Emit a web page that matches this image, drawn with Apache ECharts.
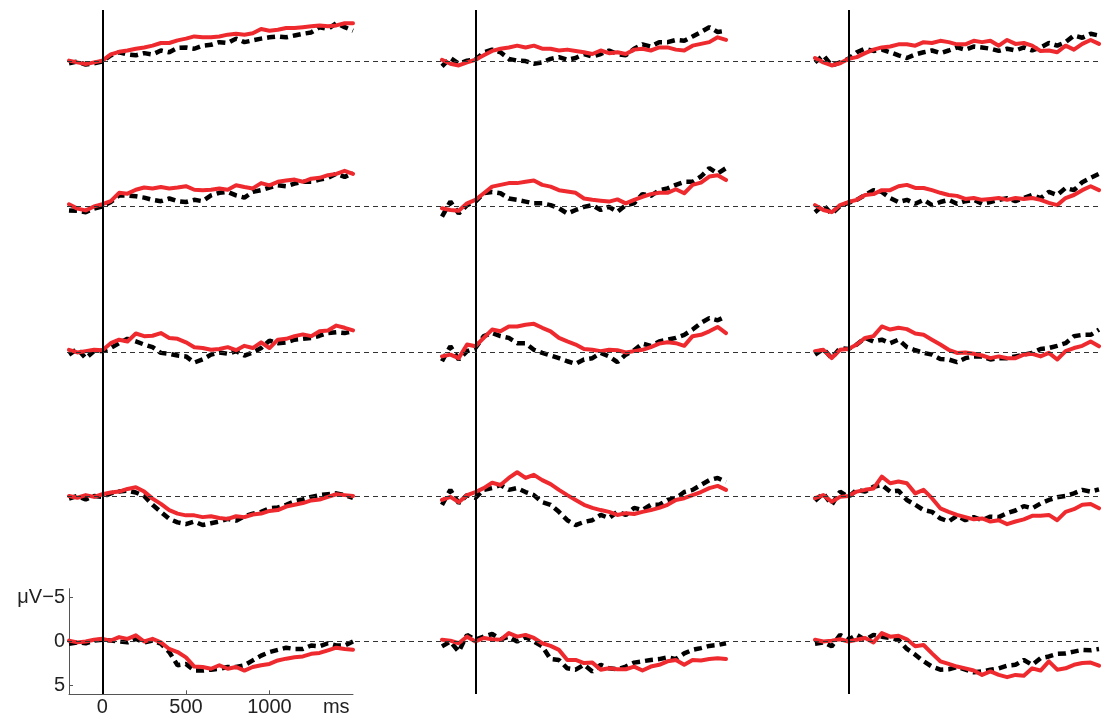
<!DOCTYPE html>
<html><head><meta charset="utf-8">
<script src="https://cdn.jsdelivr.net/npm/echarts@6/dist/echarts.min.js"></script>
<style>html,body{margin:0;padding:0;background:#fff}#c{width:1103px;height:718px}</style>
</head><body><div id="c"></div>
<script>
const times = [-200,-150,-100,-50,0,50,100,150,200,250,300,350,400,450,500,550,600,650,700,750,800,850,900,950,1000,1050,1100,1150,1200,1250,1300,1350,1400,1450,1500];
const yTicks = [-5, 0, 5];
const xTicks = [0, 500, 1000];

const red_1_1 = [-0.1,0.1,0.3,0.1,-0.1,-0.8,-1.1,-1.25,-1.45,-1.6,-1.8,-2.1,-2.1,-2.4,-2.6,-2.85,-2.75,-2.75,-2.85,-3.05,-3.15,-3.05,-3.2,-3.7,-3.5,-3.6,-3.8,-3.8,-3.9,-4.0,-4.1,-4.0,-4.1,-4.35,-4.35];
const black_1_1 = [0.2,0,0.35,0.2,0,-0.7,-1.05,-0.8,-0.7,-0.95,-0.8,-1.25,-1.05,-1.55,-1.6,-1.45,-1.8,-1.9,-2.2,-2.1,-2.6,-2.2,-2.4,-2.6,-2.75,-2.85,-2.75,-2.95,-3.15,-3.3,-3.9,-3.7,-4.35,-3.9,-3.5];
const red_1_2 = [-0.2,0.25,0.45,0.1,-0.2,-0.7,-1.2,-1.45,-1.6,-1.8,-1.6,-1.8,-1.45,-1.45,-1.25,-1.35,-1.2,-1.05,-0.85,-1.25,-0.95,-1.05,-0.85,-1.35,-1.45,-1.25,-1.6,-1.6,-1.35,-1.25,-1.8,-2.0,-2.2,-2.75,-2.45];
const black_1_2 = [0.55,-0.4,0.25,-0.1,-0.2,-1.05,-1.35,-1.05,-0.3,-0.1,-0.05,0.25,0.1,-0.3,-0.5,-0.2,-0.4,-0.85,-0.55,-0.85,-1.25,-0.85,-0.7,-1.45,-1.95,-1.7,-2.2,-2.2,-2.45,-2.35,-2.85,-3.35,-3.9,-3.35,-3.5];
const red_1_3 = [-0.4,0.1,0.45,0.2,-0.3,-0.5,-0.95,-1.35,-1.6,-1.7,-1.95,-1.95,-1.8,-2.2,-2.1,-2.35,-2.2,-1.95,-1.95,-2.35,-2.2,-2.35,-1.8,-2.45,-2.0,-2.1,-1.8,-1.2,-1.25,-1.05,-1.8,-1.35,-2.0,-2.45,-2.0];
const black_1_3 = [0.1,-0.7,0.45,0.1,-0.3,-1.05,-1.45,-1.2,-1.35,-1.05,-0.7,-0.4,-0.8,-1.05,-1.25,-0.95,-1.25,-1.6,-1.35,-1.7,-1.6,-1.45,-1.2,-1.45,-1.25,-1.6,-1.25,-1.6,-2.1,-1.8,-2.2,-2.95,-2.7,-3.15,-2.95];

const red_2_1 = [-0.2,0.3,0.5,0.05,-0.2,-0.55,-1.5,-1.4,-1.85,-2.1,-2.0,-2.15,-2.0,-2.1,-2.25,-1.85,-1.8,-1.85,-2.0,-1.85,-2.35,-2.15,-2.0,-2.6,-2.35,-2.75,-2.9,-3.0,-2.75,-3.1,-3.2,-3.5,-3.65,-4.0,-3.65];
const black_2_1 = [0.5,0.55,0.7,0.3,0.05,-0.45,-1.2,-1.2,-1.1,-0.95,-0.7,-0.55,-0.85,-0.55,-0.45,-0.7,-0.55,-1.2,-1.5,-1.6,-1.2,-0.95,-1.6,-1.8,-2.1,-2.35,-2.25,-2.55,-2.75,-2.75,-3.0,-3.2,-3.65,-3.3,-3.75];
const red_2_2 = [0.25,0.45,0.55,-0.3,-0.7,-1.45,-2.2,-2.4,-2.6,-2.6,-2.75,-2.9,-2.4,-2.2,-1.8,-1.65,-1.5,-0.85,-0.7,-0.6,-0.5,-0.75,-0.3,-0.7,-1.05,-1.35,-1.5,-1.5,-1.9,-1.45,-2.4,-2.65,-3.35,-3.5,-2.95];
const black_2_2 = [1.2,-0.5,0.85,-0.1,-0.5,-1.45,-1.6,-1.45,-0.85,-0.7,-0.5,-0.3,-0.3,-0.1,0.25,0.85,0.45,0.1,-0.1,0.45,0.1,0.65,-0.1,-0.3,-1.35,-1.15,-1.8,-2.0,-2.4,-2.75,-2.75,-3.35,-4.3,-3.7,-4.3];
const red_2_3 = [-0.1,0.45,0.7,-0.1,-0.45,-0.7,-1.25,-1.35,-1.8,-1.8,-2.25,-2.4,-2.05,-2.05,-1.8,-1.5,-1.25,-1.15,-0.8,-0.9,-0.7,-0.8,-0.9,-0.7,-0.9,-0.8,-0.9,-0.7,-0.35,-0.1,-0.9,-1.25,-1.8,-2.25,-1.8];
const black_2_3 = [0.7,-0.1,0.9,0,-0.35,-0.7,-1.25,-1.8,-1.6,-0.9,-0.45,-0.7,-0.25,-0.7,-0.1,-0.45,-0.7,-0.25,-0.55,-0.7,-0.25,-0.45,-0.7,-0.9,-0.55,-0.9,-1.25,-0.9,-1.6,-1.25,-2.05,-1.8,-2.7,-3.2,-3.65];

const red_3_1 = [-0.25,0.05,-0.1,-0.25,-0.2,-1.0,-1.4,-1.2,-2.1,-1.8,-1.85,-2.15,-1.6,-1.5,-1.1,-0.55,-0.45,-0.25,-0.35,-0.55,-0.2,-0.7,-0.45,-1.1,-0.45,-1.4,-1.5,-1.8,-2.0,-1.8,-2.35,-2.45,-3.0,-2.75,-2.45];
const black_3_1 = [0.3,-0.35,0.7,-0.1,-0.1,-0.45,-1.0,-1.5,-1.2,-0.85,-0.55,0.1,0.2,0.4,0.5,1.2,0.85,0.3,0.05,0.2,-0.1,0.4,0.05,-0.45,-1.3,-1.0,-1.1,-1.4,-1.5,-1.6,-1.85,-2.15,-2.25,-2.15,-2.35];
const red_3_2 = [0.5,0.3,0.7,-0.85,-0.65,-1.6,-2.55,-2.35,-2.9,-2.9,-3.1,-3.2,-2.75,-2.35,-1.6,-1.2,-0.85,-0.35,-0.25,-0.1,-0.25,-0.2,0.05,-0.1,-0.25,-0.55,-0.95,-1.1,-1.0,-0.7,-1.8,-1.95,-2.35,-2.85,-2.15];
const black_3_2 = [1.05,-0.65,0.85,-0.1,-0.45,-1.8,-2.15,-1.8,-1.6,-1.0,-1.0,-0.25,0.1,0.4,0.7,1.05,1.35,0.85,0.7,0.1,0.5,1.15,0.3,-0.2,-0.95,-0.7,-1.2,-1.4,-1.6,-1.95,-2.55,-3.3,-3.85,-3.6,-4.05];
const red_3_3 = [-0.1,-0.25,0.7,-0.25,-0.35,-0.85,-1.6,-1.8,-2.9,-2.55,-2.75,-2.6,-2.1,-1.95,-1.4,-0.85,-0.25,0.1,0.05,0.2,0.4,0.7,0.5,0.7,0.7,0.3,0.2,0.5,0.1,0.85,-0.1,-0.45,-0.7,-1.2,-0.65];
const black_3_3 = [0.3,-0.35,0.7,-0.45,-0.35,-0.85,-1.6,-1.2,-1.4,-1.0,-1.4,-0.55,-0.2,0.1,0.3,0.8,0.85,1.15,0.7,0.5,0.5,0.85,0.7,0.7,0.5,0.3,0.1,-0.35,-0.45,-0.7,-1.0,-1.8,-1.95,-1.95,-2.55];

const red_4_1 = [0,0.2,-0.1,0.1,-0.2,-0.4,-0.5,-0.8,-1.0,-0.5,0.3,0.9,1.6,2.0,2.2,2.2,2.4,2.3,2.5,2.6,2.3,2.4,2.1,2.0,1.7,1.6,1.2,1.0,0.8,0.5,0.4,0.1,-0.2,-0.1,0.0];
const black_4_1 = [0.3,0,0.4,0,0.1,-0.3,-0.5,-0.6,-0.4,0,1.0,1.8,2.6,3.0,3.2,2.9,3.3,3.1,2.9,2.6,2.8,2.3,2.0,1.8,1.4,1.3,1.0,0.6,0.4,0.1,-0.1,-0.2,-0.3,-0.1,0.2];
const red_4_2 = [0.45,0.1,0.7,-0.1,-0.45,-0.9,-1.5,-1.25,-2.05,-2.7,-2.05,-2.4,-1.8,-1.35,-0.7,-0.1,0.45,1.0,1.35,1.6,1.8,2.15,1.95,2.05,1.8,1.6,1.35,1.0,0.45,0.25,-0.1,-0.45,-0.9,-1.15,-0.7];
const black_4_2 = [1.0,-0.7,0.8,-0.1,0.2,-0.7,-0.9,-1.25,-0.7,-0.9,-0.45,-0.1,0.7,1.0,1.8,2.75,3.3,2.95,2.75,2.15,2.5,1.8,2.15,1.35,1.6,1.0,1.0,0.45,0.25,-0.45,-0.7,-1.25,-1.8,-2.05,-1.6];
const red_4_3 = [0.25,-0.1,0.65,0.1,0,-0.5,-0.7,-0.85,-2.2,-1.45,-1.65,-1.45,-0.3,-0.7,0.25,1.4,1.8,2.15,2.4,2.65,2.55,2.9,2.75,3.2,2.9,2.65,2.25,2.25,2.15,2.75,1.8,1.5,1.0,0.9,1.4];
const black_4_3 = [0.55,-0.3,1.0,-0.5,0.1,-0.7,-0.5,-1.05,-1.25,-0.5,-0.6,0.45,1.0,1.6,1.8,2.55,2.9,2.25,2.75,2.4,2.75,2.35,2.4,1.95,1.65,1.15,1.4,0.85,0.45,0.15,0,-0.3,-0.7,-0.5,-0.75];

const red_5_1 = [-0.1,0.1,0,-0.2,-0.3,-0.1,-0.5,-0.3,-0.7,0,-0.3,0.1,0.85,1.2,1.8,2.85,2.9,3.1,2.7,3.1,2.9,3.3,2.9,2.7,2.55,2.15,1.95,1.8,1.7,1.4,1.3,1.0,0.7,0.85,0.95];
const black_5_1 = [0.25,0.1,0.2,-0.1,-0.2,-0.1,0,0.1,-0.3,0.1,-0.1,0.25,1.2,2.7,2.55,3.3,3.3,3.2,3.1,2.9,2.9,2.7,2.15,1.6,1.2,0.95,0.7,0.85,0.85,0.45,0.55,0.2,0.45,0.45,0];
const red_5_2 = [-0.2,-0.1,0.2,-0.55,0,-0.4,-0.25,-0.2,-0.95,-0.55,-0.75,-0.4,0.2,0.5,0.95,2.1,2.1,2.45,2.4,3.2,3.05,3.15,3.15,2.85,3.3,2.85,2.65,2.25,2.1,2.65,2.1,2.15,2.0,1.9,2.0];
const black_5_2 = [0.55,0,1.15,-0.75,-0.2,-0.55,-0.85,-0.25,-0.55,0,-0.5,0,0.55,2.0,2.1,3.05,3.2,2.65,3.4,2.65,3.05,3.15,2.85,2.4,2.25,2.1,2.0,1.8,2.0,1.35,0.95,0.75,0.5,0.4,0.2];
const red_5_3 = [-0.2,0,-0.1,-0.25,0,-0.2,-0.4,0.1,-0.95,-0.55,-0.65,-0.25,0.55,0.4,1.35,2.25,2.55,2.85,3.05,3.3,3.8,3.4,3.8,4.05,3.8,3.9,3.05,3.3,2.25,3.2,3.05,2.65,2.45,2.4,2.75];
const black_5_3 = [0.25,0.1,0.55,-0.75,-0.2,-0.75,-0.2,-0.75,-0.55,-0.4,-0.2,0.85,1.5,2.25,2.85,3.2,3.15,2.9,3.2,3.5,3.4,3.2,3.05,2.75,2.65,2.1,2.65,1.9,1.7,1.4,1.35,1.15,0.95,1.0,0.85];

const panelData = [
  [[black_1_1, red_1_1], [black_1_2, red_1_2], [black_1_3, red_1_3]],
  [[black_2_1, red_2_1], [black_2_2, red_2_2], [black_2_3, red_2_3]],
  [[black_3_1, red_3_1], [black_3_2, red_3_2], [black_3_3, red_3_3]],
  [[black_4_1, red_4_1], [black_4_2, red_4_2], [black_4_3, red_4_3]],
  [[black_5_1, red_5_1], [black_5_2, red_5_2], [black_5_3, red_5_3]]
];

// layout
const colLeft = [69, 442, 815];
const panelW = 284;
const rowBase = [61.5, 206, 352, 496, 641.5];
const pxPerUV = 8.8;
const yHalf = 6;
const panelH = 2 * yHalf * pxPerUV;
const FONT = '"Liberation Sans", Arial, sans-serif';

const grid = [], xAxis = [], yAxis = [], series = [];
let gi = 0;

// column grids for the zero (stimulus onset) vertical lines
for (let c = 0; c < 3; c++) {
  grid.push({left: colLeft[c], top: 10, width: panelW, height: 684});
  xAxis.push({gridIndex: gi, type: 'value', min: -200, max: 1500, show: false});
  yAxis.push({gridIndex: gi, type: 'value', min: 0, max: 1, show: false});
  series.push({type: 'line', xAxisIndex: gi, yAxisIndex: gi, data: [], silent: true, z: 1,
    markLine: {silent: true, symbol: 'none', label: {show: false},
      lineStyle: {color: '#000', width: 2, type: 'solid'}, data: [{xAxis: 0}]}});
  gi++;
}
// row grids for dashed baselines
for (let r = 0; r < 5; r++) {
  grid.push({left: 67, width: 1101 - 67, top: rowBase[r] - 10, height: 20});
  xAxis.push({gridIndex: gi, type: 'value', min: 0, max: 1, show: false});
  yAxis.push({gridIndex: gi, type: 'value', min: -1, max: 1, show: false});
  series.push({type: 'line', xAxisIndex: gi, yAxisIndex: gi, data: [], silent: true, z: 1,
    markLine: {silent: true, symbol: 'none', label: {show: false},
      lineStyle: {color: '#333', width: 1, type: [5, 4]}, data: [{yAxis: 0}]}});
  gi++;
}
// data panels
for (let r = 0; r < 5; r++) {
  for (let c = 0; c < 3; c++) {
    const showAxes = (r === 4 && c === 0);
    grid.push({left: colLeft[c], top: rowBase[r] - panelH / 2, width: panelW, height: panelH});
    xAxis.push({gridIndex: gi, type: 'value', min: -200, max: 1500, show: showAxes,
      splitLine: {show: false},
      axisLine: {show: true, onZero: false, lineStyle: {color: '#555', width: 1}},
      axisTick: {show: true, inside: true, length: 4, customValues: xTicks, lineStyle: {color: '#555'}},
      axisLabel: {customValues: xTicks.concat([1400]), margin: 3, fontSize: 20, fontFamily: FONT, color: '#222',
        formatter: v => (v === 1400 ? 'ms' : String(v))}
    });
    yAxis.push({gridIndex: gi, type: 'value', min: -yHalf, max: yHalf, inverse: true, show: showAxes,
      splitLine: {show: false},
      axisLine: {show: true, onZero: false, lineStyle: {color: '#555', width: 1}},
      axisTick: {show: true, inside: true, length: 4, customValues: yTicks, lineStyle: {color: '#555'}},
      axisLabel: {customValues: yTicks, margin: 4, fontSize: 20, fontFamily: FONT, color: '#222',
        formatter: v => (v === -5 ? 'μV−5' : String(v))}
    });
    const [blk, red] = panelData[r][c];
    series.push({type: 'line', xAxisIndex: gi, yAxisIndex: gi, showSymbol: false, silent: true, z: 3,
      data: times.map((t, i) => [t, blk[i]]),
      lineStyle: {color: '#000', width: 4.5, type: [8, 5], cap: 'butt'}});
    series.push({type: 'line', xAxisIndex: gi, yAxisIndex: gi, showSymbol: false, silent: true, z: 4,
      data: times.map((t, i) => [t, red[i]]),
      lineStyle: {color: '#ee2a2f', width: 4, cap: 'round', join: 'round'}});
    gi++;
  }
}

const chart = echarts.init(document.getElementById('c'), null, {renderer: 'canvas'});
chart.setOption({animation: false, backgroundColor: '#fff', grid, xAxis, yAxis, series});
</script>
</body></html>
